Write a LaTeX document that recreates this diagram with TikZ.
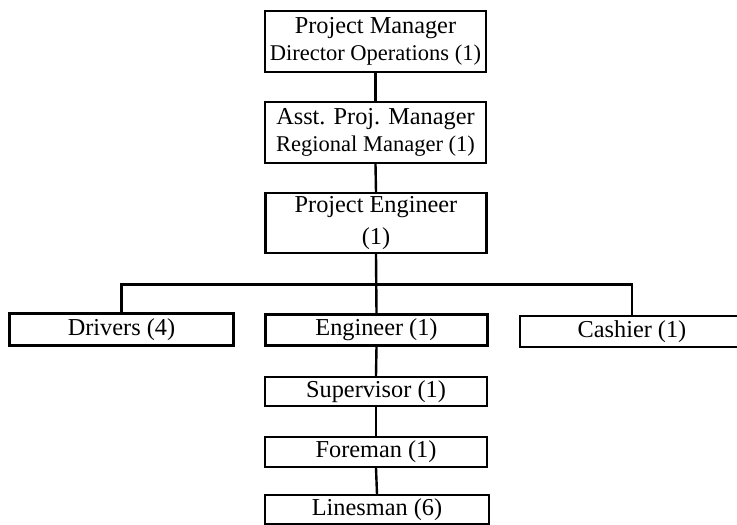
\documentclass[tikz,border=0pt]{standalone}
\usepackage{fontspec}
\setmainfont{Liberation Serif}
\begin{document}
\begin{tikzpicture}[x=1pt,y=-1pt,
  box/.style={draw, line width=2.2pt, rectangle, inner sep=0pt, align=center,
    minimum width=221pt, font=\fontsize{24.3}{28}\selectfont},
  conn/.style={line width=2.4pt}]
\useasboundingbox (0,0) rectangle (737,525);
\clip (0,0) rectangle (737,525);
\node[box, minimum height=61pt] (pm) at (375.5,41.5)
  {Project Manager\\[-1pt]{\fontsize{22.5}{26}\selectfont Director Operations (1)}};
\node[box, minimum height=61pt] (apm) at (375.5,132.5)
  {Asst. Proj. Manager\\[-1pt]{\fontsize{22.5}{26}\selectfont Regional Manager (1)}};
\node[box, minimum height=60pt] (pe) at (376,223)
  {Project Engineer\\[4pt](1)};
\node[box, minimum height=32pt, minimum width=224pt] (drv) at (121.5,329.5) {Drivers (4)};
\node[box, minimum height=31pt, minimum width=222pt] (eng) at (376.5,330) {Engineer (1)};
\node[box, minimum height=31pt, minimum width=224pt] (cash) at (632,331.5) {Cashier (1)};
\node[box, minimum height=29pt, minimum width=222pt] (sup) at (376,391.5) {Supervisor (1)};
\node[box, minimum height=30pt, minimum width=222pt] (fore) at (376,452) {Foreman (1)};
\node[box, minimum height=29pt, minimum width=224pt] (lin) at (377,509.5) {Linesman (6)};
\coordinate (bus) at (376,284.5);
\draw[conn] (pm.south) -- (apm.north);
\draw[conn] (apm.south) -- (pe.north);
\draw[conn] (pe.south) -- (eng.north);
\draw[conn] (drv.north) |- (bus) -| (cash.north);
\draw[conn] (eng.south) -- (sup.north);
\draw[conn] (sup.south) -- (fore.north);
\draw[conn] (fore.south) -- (lin.north);
\end{tikzpicture}
\end{document}
